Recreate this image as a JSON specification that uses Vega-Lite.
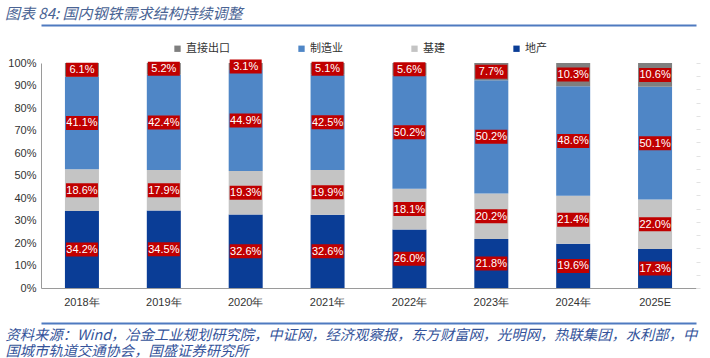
{
  "$schema": "https://vega.github.io/schema/vega-lite/v6.json",
  "width": 655,
  "height": 225,
  "autosize": "none",
  "padding": {"left": 41, "top": 63, "right": 14, "bottom": 70},
  "background": "white",
  "title": {
    "text": "图表 84:  国内钢铁需求结构持续调整",
    "anchor": "start",
    "frame": "group",
    "dx": -36,
    "dy": 5,
    "offset": 8,
    "font": "Noto Sans CJK SC",
    "fontSize": 15,
    "fontStyle": "italic",
    "fontWeight": "normal",
    "color": "#4a6494"
  },
  "data": {
    "values": [
      {"year": "2018年", "s": "地产", "v": 34.2},
      {"year": "2018年", "s": "基建", "v": 18.6},
      {"year": "2018年", "s": "制造业", "v": 41.1},
      {"year": "2018年", "s": "直接出口", "v": 6.1},
      {"year": "2019年", "s": "地产", "v": 34.5},
      {"year": "2019年", "s": "基建", "v": 17.9},
      {"year": "2019年", "s": "制造业", "v": 42.4},
      {"year": "2019年", "s": "直接出口", "v": 5.2},
      {"year": "2020年", "s": "地产", "v": 32.6},
      {"year": "2020年", "s": "基建", "v": 19.3},
      {"year": "2020年", "s": "制造业", "v": 44.9},
      {"year": "2020年", "s": "直接出口", "v": 3.1},
      {"year": "2021年", "s": "地产", "v": 32.6},
      {"year": "2021年", "s": "基建", "v": 19.9},
      {"year": "2021年", "s": "制造业", "v": 42.5},
      {"year": "2021年", "s": "直接出口", "v": 5.1},
      {"year": "2022年", "s": "地产", "v": 26.0},
      {"year": "2022年", "s": "基建", "v": 18.1},
      {"year": "2022年", "s": "制造业", "v": 50.2},
      {"year": "2022年", "s": "直接出口", "v": 5.6},
      {"year": "2023年", "s": "地产", "v": 21.8},
      {"year": "2023年", "s": "基建", "v": 20.2},
      {"year": "2023年", "s": "制造业", "v": 50.2},
      {"year": "2023年", "s": "直接出口", "v": 7.7},
      {"year": "2024年", "s": "地产", "v": 19.6},
      {"year": "2024年", "s": "基建", "v": 21.4},
      {"year": "2024年", "s": "制造业", "v": 48.6},
      {"year": "2024年", "s": "直接出口", "v": 10.3},
      {"year": "2025E", "s": "地产", "v": 17.3},
      {"year": "2025E", "s": "基建", "v": 22.0},
      {"year": "2025E", "s": "制造业", "v": 50.1},
      {"year": "2025E", "s": "直接出口", "v": 10.6}
    ]
  },
  "transform": [
    {"calculate": "indexof(['地产','基建','制造业','直接出口'], datum.s)", "as": "ord"},
    {"stack": "v", "groupby": ["year"], "sort": [{"field": "ord", "order": "ascending"}], "as": ["y0", "y1"], "offset": "normalize"},
    {"calculate": "(datum.y0 + datum.y1) / 2", "as": "mid"},
    {"calculate": "format(datum.v, '.1f') + '%'", "as": "lbl"}
  ],
  "layer": [
    {
      "mark": {"type": "bar", "size": 34},
      "encoding": {
        "x": {
          "field": "year", "type": "nominal", "sort": null,
          "scale": {"paddingInner": 0, "paddingOuter": 0},
          "axis": {
            "orient": "bottom", "title": null, "labelAngle": 0,
            "labelFont": "Liberation Sans", "labelFontSize": 11, "labelColor": "#333333",
            "labelPadding": 8, "ticks": false, "domainColor": "#9a9a9a", "domainWidth": 1
          }
        },
        "y": {
          "field": "y0", "type": "quantitative",
          "scale": {"domain": [0, 1], "nice": false},
          "axis": {
            "orient": "left", "title": null, "format": ".0%", "values": [0, 0.1, 0.2, 0.3, 0.4, 0.5, 0.6, 0.7, 0.8, 0.9, 1],
            "labelFont": "Liberation Sans", "labelFontSize": 11, "labelColor": "#333333",
            "labelPadding": 5, "ticks": false, "grid": false, "domainColor": "#9a9a9a"
          }
        },
        "y2": {"field": "y1"},
        "color": {
          "field": "s", "type": "nominal",
          "scale": {"domain": ["直接出口", "制造业", "基建", "地产"], "range": ["#7f7f7f", "#4f86c6", "#c4c4c4", "#0a3d96"]},
          "legend": {
            "title": null, "orient": "none", "direction": "horizontal",
            "legendX": 131, "legendY": -20,
            "symbolType": "square", "symbolSize": 40, "symbolStrokeWidth": 0,
            "labelFont": "Noto Sans CJK SC", "labelFontSize": 11, "labelColor": "#333333",
            "columnPadding": 66, "labelOffset": 3
          }
        }
      }
    },
    {
      "mark": {"type": "point", "shape": "M-1,-0.4375H1V0.4375H-1Z", "size": 1024, "filled": true, "fill": "#c00000", "opacity": 1, "strokeWidth": 0},
      "encoding": {
        "x": {
          "field": "year", "type": "nominal", "sort": null,
          "axis": {"orient": "top", "offset": 38, "title": null, "labels": false, "ticks": false, "domainColor": "#4f7ac0", "domainWidth": 2}
        },
        "y": {"field": "mid", "type": "quantitative", "axis": null}
      }
    },
    {
      "mark": {"type": "text", "fill": "#ffffff", "font": "Liberation Sans", "fontSize": 11, "baseline": "middle", "dy": 0.5},
      "encoding": {
        "x": {
          "field": "year", "type": "nominal", "sort": null,
          "axis": {
            "orient": "bottom", "offset": 35, "labels": false, "ticks": false,
            "domainColor": "#4f7ac0", "domainWidth": 2,
            "title": ["资料来源：Wind，冶金工业规划研究院，中证网，经济观察报，东方财富网，光明网，热联集团，水利部，中", "国城市轨道交通协会，国盛证券研究所"],
            "titleAnchor": "start", "titleAlign": "left", "titleX": -36, "titleY": 5,
            "titleBaseline": "top", "titleLineHeight": 16,
            "titleFont": "Noto Sans CJK SC", "titleFontSize": 14.3, "titleFontStyle": "italic", "titleFontWeight": "normal",
            "titleColor": "#34539a"
          }
        },
        "y": {
          "field": "mid", "type": "quantitative",
          "axis": {"orient": "right", "title": null, "labels": false, "domain": false, "grid": false,
                   "values": [0, 0.0588, 0.1176, 0.1765, 0.2353, 0.2941, 0.3529, 0.4118, 0.4706, 0.5294, 0.5882, 0.6471, 0.7059, 0.7647, 0.8235, 0.8824, 0.9412, 1],
                   "tickColor": "#e2e2e2", "tickSize": 4}
        },
        "text": {"field": "lbl"}
      }
    }
  ],
  "resolve": {"axis": {"x": "independent", "y": "independent"}},
  "config": {"view": {"stroke": null}}
}
